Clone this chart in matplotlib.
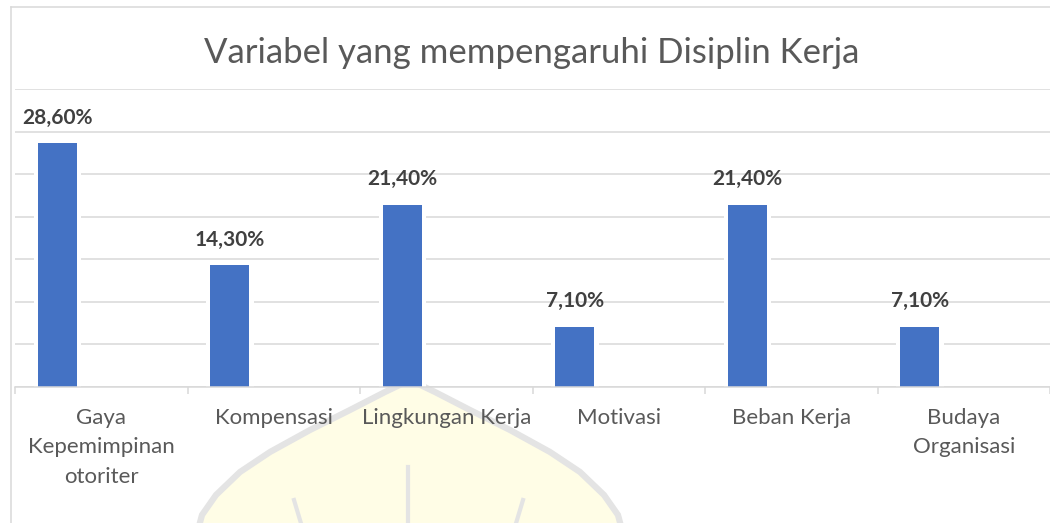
import numpy as np
import matplotlib
matplotlib.use("Agg")
import matplotlib.pyplot as plt
from matplotlib.path import Path
from matplotlib.patches import PathPatch
from matplotlib.lines import Line2D

# Dane wykresu
kategorie = ["Gaya\nKepemimpinan\notoriter", "Kompensasi", "Lingkungan Kerja",
             "Motivasi", "Beban Kerja", "Budaya\nOrganisasi"]
wartosci = [28.6, 14.3, 21.4, 7.1, 21.4, 7.1]
etykiety = ["28,60%", "14,30%", "21,40%", "7,10%", "21,40%", "7,10%"]
tytul = "Variabel yang mempengaruhi Disiplin Kerja"

plt.rcParams['font.family'] = ['Lato', 'DejaVu Sans']

W, H = 1050, 523
fig = plt.figure(figsize=(W / 100, H / 100), dpi=100)


def px(x, y):
    # piksele (od lewego górnego rogu) -> współrzędne figury
    return x / W, 1 - y / H


# znak wodny (kopuła) w tle
cx = 410
lewa = [(410, 380), (385, 392), (350, 410), (310, 430), (270, 452),
        (240, 472), (216, 495), (202, 515), (198, 530)]
prawa = [(2 * cx - x, y) for x, y in lewa[::-1]]
kontur = lewa + prawa
pts = [px(x, y) for x, y in kontur]
wodny = PathPatch(Path(pts + [pts[0]]), transform=fig.transFigure,
                  facecolor="#fffde6", edgecolor="#e4e4e4", lw=4.5, zorder=-2)
fig.patches.append(wodny)
for (x0, y0), (x1, y1), lw in [((408, 467), (408, 530), 3.0),
                               ((294, 500), (303, 530), 3.0),
                               ((523, 500), (514, 530), 3.0)]:
    (a, b), (c, d) = px(x0, y0), px(x1, y1)
    fig.lines.append(Line2D([a, c], [b, d], transform=fig.transFigure,
                            color="#e4e4e4", lw=lw, zorder=-1))

# ramka wykresu
for (x0, y0), (x1, y1) in [((11, 7), (11, 530)), ((11, 7), (1060, 7))]:
    (a, b), (c, d) = px(x0, y0), px(x1, y1)
    fig.lines.append(Line2D([a, c], [b, d], transform=fig.transFigure,
                            color="#d9d9d9", lw=1.1, zorder=0))

l, b = px(15, 387)
_, t = px(15, 89)
ax = fig.add_axes([l, b, 1050 / W - l, t - b])
ax.set_facecolor("none")

n = len(kategorie)
x = np.arange(n)
poz = x - 0.5 + 0.246
szer = 0.226
ax.bar(poz, wartosci, width=szer + 0.048, color="white", zorder=2.5)
ax.bar(poz, wartosci, width=szer, color="#4472c4", zorder=3)

for xi, v, txt in zip(poz, wartosci, etykiety):
    ax.annotate(txt, (xi, v), xytext=(0, 14), textcoords="offset points",
                ha="center", va="baseline", fontsize=15, fontweight="bold",
                color="#404040")

ax.set_xlim(-0.5, n - 0.5)
ax.set_ylim(0, 35)
ax.set_yticks(np.arange(0, 36, 5))
ax.yaxis.grid(True, color="#d9d9d9", lw=1.1, zorder=1)
ax.set_axisbelow(True)
ax.tick_params(axis="y", left=False, labelleft=False)

ax.set_xticks(x)
ax.set_xticklabels(kategorie, fontsize=16, color="#595959", linespacing=1.6)
ax.set_xticks(np.arange(-0.5, n, 1), minor=True)
ax.tick_params(axis="x", which="major", length=0, pad=15)
ax.tick_params(axis="x", which="minor", length=5, width=1.1, color="#d9d9d9")

for s in ["top", "right", "left"]:
    ax.spines[s].set_visible(False)
ax.spines["bottom"].set_color("#d9d9d9")
ax.spines["bottom"].set_linewidth(1.1)
ax.spines["bottom"].set_zorder(4)

tx, ty = px(532, 63)
fig.text(tx, ty, tytul, ha="center", va="baseline", fontsize=25,
         color="#595959")

fig.savefig("out.png", dpi=100)
